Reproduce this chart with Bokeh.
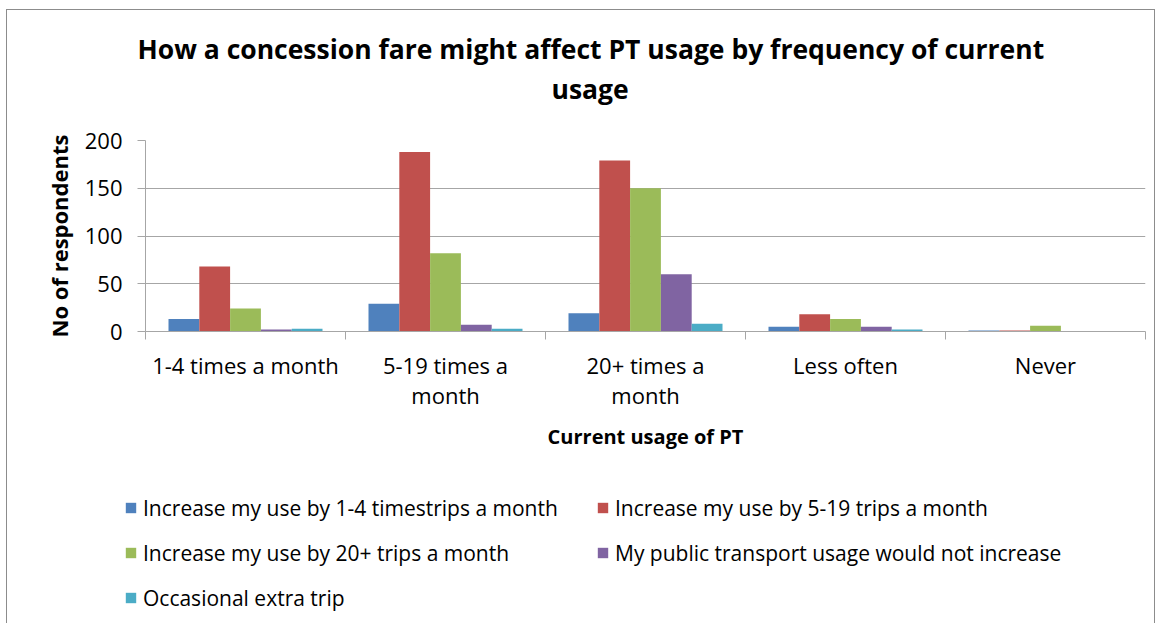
import numpy as np
from bokeh.plotting import figure
from bokeh.layouts import column
from bokeh.models import FixedTicker, Title, Legend, LegendItem, Range1d
from bokeh.embed import file_html
from bokeh.resources import INLINE

# ---------------- data ----------------
categories = ["1-4 times a month", "5-19 times a\nmonth", "20+ times a\nmonth", "Less often", "Never"]
series_names = [
    "Increase my use by 1-4 timestrips a month",
    "Increase my use by 5-19 trips a month",
    "Increase my use by 20+ trips a month",
    "My public transport usage would not increase",
    "Occasional extra trip",
]
inc_1_4 = [13, 29, 19, 5, 1]
inc_5_19 = [68, 188, 179, 18, 1]
inc_20_plus = [24, 82, 150, 13, 6]
no_increase = [2, 7, 60, 5, 0]
occasional = [3, 3, 8, 2, 0]
y_ticks = [0, 50, 100, 150, 200]

series = [inc_1_4, inc_5_19, inc_20_plus, no_increase, occasional]
colors = ["#4F81BD", "#C0504D", "#9BBB59", "#8064A2", "#4BACC6"]

FONT = "Open Sans"
GRID = "#A6A6A6"
W = 1147

p = figure(width=W, height=460, output_backend="svg", toolbar_location=None,
           x_range=Range1d(0, len(categories)), y_range=Range1d(0, 200),
           min_border_left=138, min_border_top=130, min_border_right=9,
           min_border_bottom=139, title=None)
p.outline_line_color = None
p.background_fill_color = "white"
p.border_fill_color = "white"
p.frame_align = False

# titles (stacked outward from the plot area; the first is an empty spacer)
t0 = Title(text=" ", align="left", text_font=FONT, text_font_size="10px", standoff=18)
p.add_layout(t0, "above")
t2 = Title(text="usage", align="left", offset=406, text_font=FONT, text_font_size="26.5px",
           text_font_style="bold", text_color="black", standoff=0)
p.add_layout(t2, "above")
t1 = Title(text="How a concession fare might affect PT usage by frequency of current",
           align="left", offset=-8, text_font=FONT, text_font_size="26.5px",
           text_font_style="bold", text_color="black", standoff=3)
p.add_layout(t1, "above")

# bars
n = len(series)
bw = 0.154
centers = np.arange(len(categories)) + 0.5
offsets = [(i - (n - 1) / 2) * bw for i in range(n)]
for vals, col, off in zip(series, colors, offsets):
    p.vbar(x=centers + off, top=vals, width=bw, bottom=0,
           fill_color=col, line_color=None)

# axes
p.xaxis.ticker = FixedTicker(ticks=list(centers), minor_ticks=list(range(len(categories) + 1)))
p.xaxis.major_label_overrides = {float(c): lab for c, lab in zip(centers, categories)}
p.xaxis.major_tick_line_color = None
p.xaxis.major_tick_out = 8
p.xaxis.minor_tick_out = 8
p.xaxis.minor_tick_in = 0
p.xaxis.minor_tick_line_color = GRID
p.xaxis.axis_line_color = GRID
p.xaxis.major_label_text_font = FONT
p.xaxis.major_label_text_font_size = "22px"
p.xaxis.major_label_text_color = "black"
p.xaxis.major_label_text_line_height = 1.03
p.xaxis.major_label_standoff = 10
p.xaxis.axis_label = "Current usage of PT"
p.xaxis.axis_label_text_font = FONT
p.xaxis.axis_label_text_font_size = "20px"
p.xaxis.axis_label_text_font_style = "bold"
p.xaxis.axis_label_text_color = "black"
p.xaxis.axis_label_standoff = 10

p.yaxis.ticker = FixedTicker(ticks=y_ticks)
p.yaxis.major_tick_out = 8
p.yaxis.major_tick_in = 0
p.yaxis.minor_tick_line_color = None
p.yaxis.major_tick_line_color = GRID
p.yaxis.axis_line_color = GRID
p.yaxis.major_label_text_font = FONT
p.yaxis.major_label_text_font_size = "22px"
p.yaxis.major_label_text_color = "black"
p.yaxis.major_label_standoff = 15
p.yaxis.axis_label = "No of respondents"
p.yaxis.axis_label_text_font = FONT
p.yaxis.axis_label_text_font_size = "22px"
p.yaxis.axis_label_text_font_style = "bold"
p.yaxis.axis_label_text_color = "black"
p.yaxis.axis_label_standoff = 8

p.xgrid.grid_line_color = None
p.ygrid.grid_line_color = GRID
p.ygrid.grid_line_width = 1

# legend in its own strip below the chart (hidden copies of the series supply the swatches)
lf = figure(width=W, height=154, output_backend="svg", toolbar_location=None,
            x_range=Range1d(0, len(categories)), y_range=Range1d(0, 200),
            x_axis_type=None, y_axis_type=None,
            min_border_left=0, min_border_right=0, min_border_top=0, min_border_bottom=0)
lf.frame_align = False
lf.outline_line_color = None
lf.grid.grid_line_color = None
lf.border_fill_color = "white"
leg_renderers = []
for vals, col, off in zip(series, colors, offsets):
    r = lf.vbar(x=centers + off, top=vals, width=bw, bottom=0,
                fill_color=col, line_color=None, visible=False)
    leg_renderers.append(r)
items = [LegendItem(label=name, renderers=[r]) for name, r in zip(series_names, leg_renderers)]
legend = Legend(items=items, orientation="horizontal", ncols=2,
                location=(117, 12), padding=0, margin=0, spacing=16,
                glyph_width=13, glyph_height=13, label_height=29, label_width=437,
                label_standoff=6, label_text_font=FONT, label_text_font_size="21px",
                label_text_color="black", border_line_color=None,
                background_fill_alpha=0)
lf.add_layout(legend, "center")

layout = column(p, lf, spacing=0)
layout.styles = {"border": "1px solid #8C8C8C", "margin-left": "6px", "margin-top": "9px"}

open("out.html", "w").write(file_html(layout, INLINE))
